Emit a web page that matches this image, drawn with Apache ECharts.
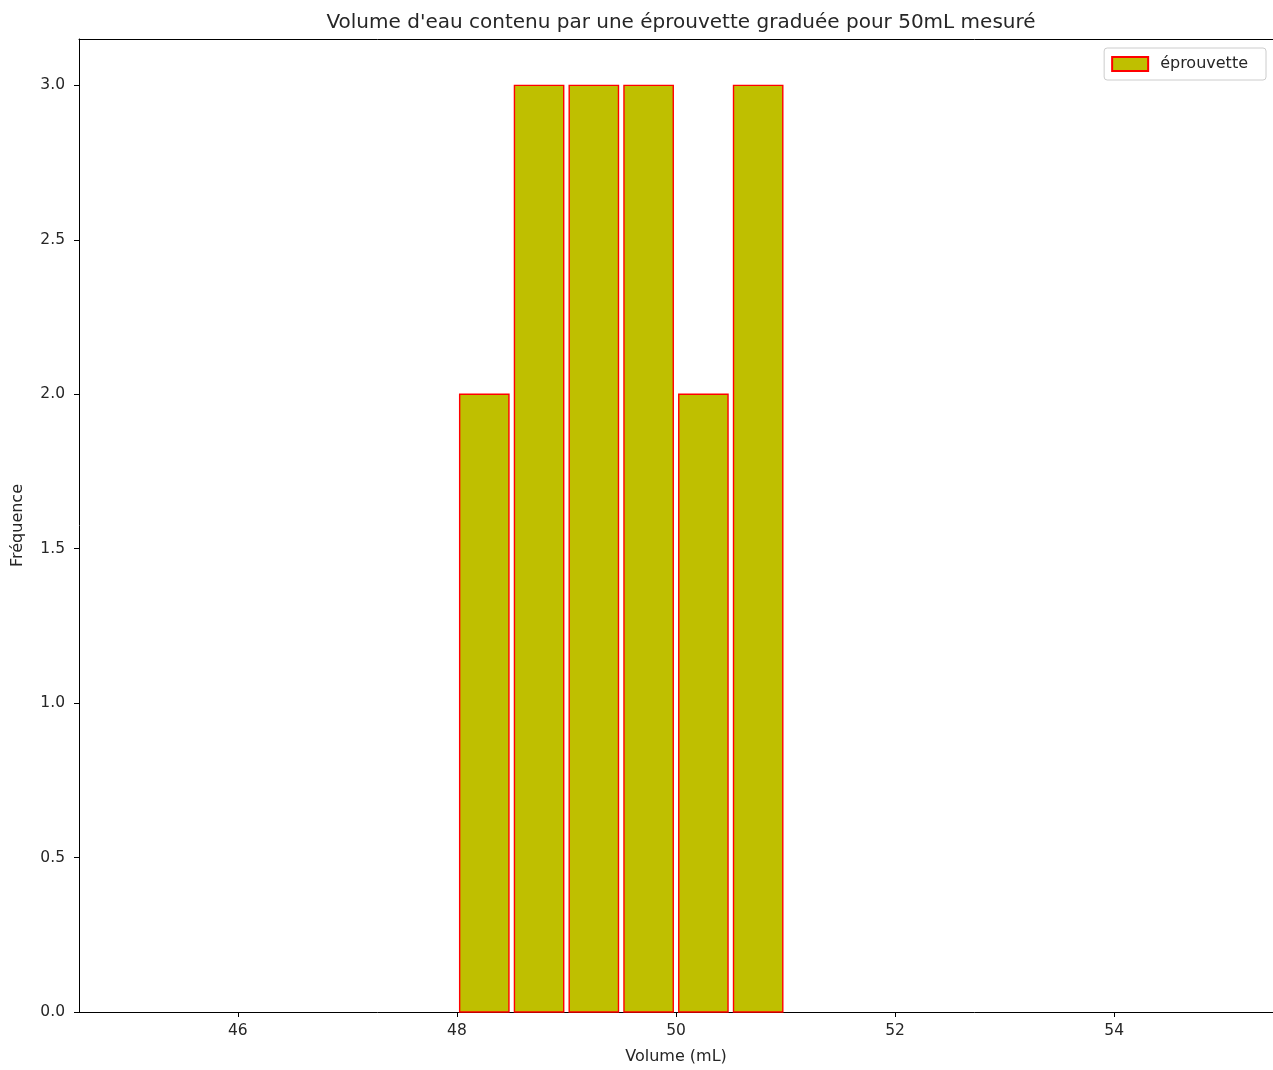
<!DOCTYPE html>
<html>
<head>
<meta charset="utf-8">
<script src="https://cdn.jsdelivr.net/npm/echarts@6/dist/echarts.min.js"></script>
<style>
html,body{margin:0;padding:0;background:#fff;}
#c{width:1273px;height:1070px;}
</style>
</head>
<body>
<div id="c"></div>
<script>
const binEdges = [48, 48.5, 49, 49.5, 50, 50.5, 51];
const counts = [2, 3, 3, 3, 2, 3];
const xTicks = [46, 48, 50, 52, 54];
const yTicks = [0, 0.5, 1.0, 1.5, 2.0, 2.5, 3.0];
const seriesName = 'éprouvette';
const titleText = "Volume d'eau contenu par une éprouvette graduée pour 50mL mesuré";

const data = counts.map((c, i) => [binEdges[i], binEdges[i + 1], c]);
const FONT = 'DejaVu Sans';
const TXT = '#262626';
const chart = echarts.init(document.getElementById('c'));
chart.setOption({
  animation: false,
  title: {
    text: titleText, left: 676, top: 8, textAlign: 'center',
    textStyle: {fontFamily: FONT, fontSize: 20, fontWeight: 'normal', color: TXT}
  },
  legend: {
    data: [{name: seriesName, icon: 'rect'}],
    right: 7, top: 48, itemWidth: 36, itemHeight: 14, itemGap: 10,
    padding: [8, 18, 8, 7], borderColor: '#cccccc', borderWidth: 1, borderRadius: 3,
    textStyle: {fontFamily: FONT, fontSize: 16, color: TXT, padding: [0, 0, 0, 7]}
  },
  grid: {left: 79, top: 39, right: 0, bottom: 56, containLabel: false},
  xAxis: [{
    type: 'value', min: 44.55, max: 55.45,
    name: 'Volume (mL)', nameLocation: 'middle', nameGap: 37,
    nameTextStyle: {fontFamily: FONT, fontSize: 16, color: TXT},
    axisLine: {show: true, lineStyle: {color: '#000'}},
    axisTick: {show: true, length: 5, customValues: xTicks, lineStyle: {color: '#000'}},
    axisLabel: {customValues: xTicks, fontFamily: FONT, fontSize: 15.5, color: TXT, margin: 11},
    splitLine: {show: false}
  }, {
    type: 'value', position: 'top', min: 44.55, max: 55.45,
    axisLine: {show: true, lineStyle: {color: '#000'}},
    axisTick: {show: false}, axisLabel: {show: false}, splitLine: {show: false}
  }],
  yAxis: {
    type: 'value', min: 0, max: 3.15,
    name: 'Fréquence', nameLocation: 'middle', nameGap: 53, nameRotate: 90,
    nameTextStyle: {fontFamily: FONT, fontSize: 16, color: TXT},
    axisLine: {show: true, lineStyle: {color: '#000'}},
    axisTick: {show: true, length: 5, customValues: yTicks, lineStyle: {color: '#000'}},
    axisLabel: {customValues: yTicks, fontFamily: FONT, fontSize: 15.5, color: TXT, margin: 14,
      formatter: v => Number(v).toFixed(1)},
    splitLine: {show: false}
  },
  series: [{
    name: seriesName, type: 'custom',
    itemStyle: {color: '#bfbf00', borderColor: '#ff0000', borderWidth: 1.4},
    encode: {x: [0, 1], y: 2},
    renderItem: function (params, api) {
      const lo = api.value(0), hi = api.value(1), c = api.value(2);
      const mid = (lo + hi) / 2, half = (hi - lo) * 0.9 / 2;
      const p0 = api.coord([mid - half, c]);
      const p1 = api.coord([mid + half, 0]);
      return {
        type: 'rect',
        shape: {x: p0[0], y: p0[1], width: p1[0] - p0[0], height: p1[1] - p0[1]},
        style: {fill: '#bfbf00', stroke: '#ff0000', lineWidth: 1.4}
      };
    },
    data: data
  }]
});
</script>
</body>
</html>
